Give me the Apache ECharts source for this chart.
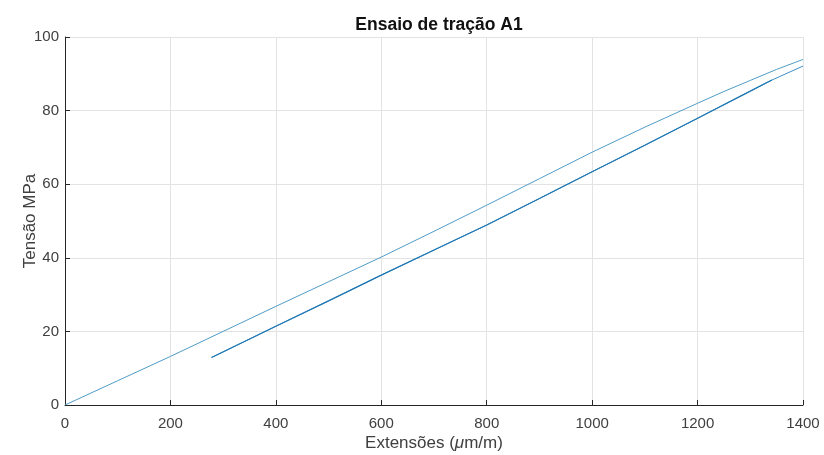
<!DOCTYPE html>
<html>
<head>
<meta charset="utf-8">
<script src="https://cdn.jsdelivr.net/npm/echarts@6/dist/echarts.min.js"></script>
<style>
html,body{margin:0;padding:0;background:#fff;}
#c{width:824px;height:455px;}
</style>
</head>
<body>
<div id="c"></div>
<script>
// Loading curve (Extensões µm/m, Tensão MPa)
var loadX = [0, 100, 200, 300, 400, 500, 600, 700, 800, 900, 1000, 1100, 1200, 1250, 1300, 1350, 1400];
var loadY = [0, 6.6, 13.2, 20.0, 26.8, 33.5, 40.2, 47.2, 54.3, 61.5, 68.7, 75.5, 82.0, 85.2, 88.2, 91.2, 93.9];
// Unloading curve (from 1400 down to 278)
var unloadX = [1400, 1341, 1300, 1200, 1100, 1000, 900, 800, 700, 600, 500, 400, 278];
var unloadY = [92.1, 88.3, 85.3, 77.9, 70.6, 63.4, 56.1, 48.9, 42.1, 35.3, 28.3, 21.4, 12.9];
// Reloading curve (from 278 up to 1341)
var reloadX = [278, 400, 500, 600, 700, 800, 900, 1000, 1100, 1200, 1300, 1341];
var reloadY = [12.9, 21.4, 28.3, 35.3, 42.1, 48.9, 56.1, 63.4, 70.6, 77.9, 85.3, 88.3];
var xTicks = [0, 200, 400, 600, 800, 1000, 1200, 1400];
var yTicks = [0, 20, 40, 60, 80, 100];

function pairs(xs, ys){ return xs.map(function(x,i){return [x, ys[i]];}); }

var font = 'Liberation Sans, Arial, Helvetica, sans-serif';
var labCol = '#404040';
var chart = echarts.init(document.getElementById('c'), null, {renderer:'canvas'});
chart.setOption({
  animation:false,
  backgroundColor:'#fff',
  title:{
    text:'Ensaio de tração A1',
    left:434, top:11, textAlign:'center',
    textStyle:{fontFamily:font, fontSize:17.5, fontWeight:'bold', color:'#111'}
  },
  grid:{left:65, right:21, top:37, bottom:50, containLabel:false, outerBoundsMode:'none'},
  xAxis:{
    type:'value', min:xTicks[0], max:xTicks[xTicks.length-1], interval:200,
    name:'Extensões ({i|μ}m/m)', nameLocation:'middle', nameGap:30, nameMoveOverlap:false,
    nameTextStyle:{fontFamily:font, fontSize:17, color:labCol,
      rich:{i:{fontStyle:'italic', fontFamily:font, fontSize:17, color:labCol}}},
    axisLine:{show:true, lineStyle:{color:'#262626', width:1}},
    axisTick:{show:true, inside:true, length:5, lineStyle:{color:'#262626'}},
    axisLabel:{fontFamily:font, fontSize:15, color:labCol, margin:11,
      formatter:function(v){return String(v);}},
    splitLine:{show:true, lineStyle:{color:'#e3e3e3', width:1}}
  },
  yAxis:{
    type:'value', min:yTicks[0], max:yTicks[yTicks.length-1], interval:20,
    name:'Tensão MPa', nameLocation:'middle', nameGap:26, nameRotate:90, nameMoveOverlap:false,
    nameTextStyle:{fontFamily:font, fontSize:17, color:labCol},
    axisLine:{show:true, lineStyle:{color:'#262626', width:1}},
    axisTick:{show:true, inside:true, length:5, lineStyle:{color:'#262626'}},
    axisLabel:{fontFamily:font, fontSize:15, color:labCol, margin:6,
      formatter:function(v){return String(v);}},
    splitLine:{show:true, lineStyle:{color:'#e3e3e3', width:1}}
  },
  series:[
    {type:'line', data:pairs(loadX, loadY), showSymbol:false, smooth:false,
     lineStyle:{color:'#4f9cc6', width:1}},
    {type:'line', data:pairs(unloadX, unloadY), showSymbol:false,
     lineStyle:{color:'#3d8fc4', width:1}},
    {type:'line', data:pairs(reloadX, reloadY), showSymbol:false,
     lineStyle:{color:'#1f78b4', width:1.2}}
  ]
});
</script>
</body>
</html>
